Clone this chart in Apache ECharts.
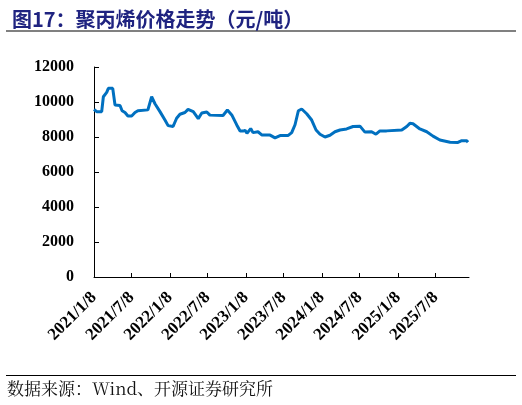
<!DOCTYPE html>
<html>
<head>
    <meta charset="utf-8">
    <title>聚丙烯价格走势</title>
    <script src="https://cdn.jsdelivr.net/npm/echarts@6.0.0/dist/echarts.min.js"></script>
    <style>
        *{
            margin: 0;
            padding: 0;
        }
        html,body{
            width: 100%;
            height: 100%;
            overflow: hidden;
            background: #fff;
        }
        .container{
            width: 522px;
            height: 405px;
        }
    </style>
</head>
<body>
<div class="container"></div>

<script>
    // 聚丙烯价格（元/吨）
    const dates = [
        '2021-01-08', '2021-01-21', '2021-02-14', '2021-02-22', '2021-03-10', '2021-03-18',
        '2021-04-08', '2021-04-19', '2021-05-13', '2021-05-23', '2021-06-06', '2021-06-20',
        '2021-07-08', '2021-07-24', '2021-08-07', '2021-09-24', '2021-10-12', '2021-10-28',
        '2021-11-21', '2021-12-15', '2021-12-30', '2022-01-23', '2022-02-09', '2022-02-25',
        '2022-03-21', '2022-04-05', '2022-04-30', '2022-05-24', '2022-06-10', '2022-07-04',
        '2022-07-19', '2022-09-20', '2022-10-11', '2022-11-01', '2022-11-25', '2022-12-11',
        '2022-12-25', '2023-01-04', '2023-01-13', '2023-01-31', '2023-02-11', '2023-03-07',
        '2023-03-25', '2023-05-04', '2023-05-28', '2023-06-21', '2023-07-29', '2023-08-16',
        '2023-09-01', '2023-09-17', '2023-10-03', '2023-10-27', '2023-11-20', '2023-12-11',
        '2023-12-30', '2024-01-23', '2024-02-16', '2024-03-11', '2024-04-04', '2024-05-06',
        '2024-06-06', '2024-07-09', '2024-08-02', '2024-09-03', '2024-09-24', '2024-10-13',
        '2024-11-14', '2025-01-26', '2025-02-19', '2025-03-06', '2025-03-21', '2025-04-23',
        '2025-05-26', '2025-06-25', '2025-07-28', '2025-09-15', '2025-10-23', '2025-11-10',
        '2025-12-04', '2025-12-10'
    ];
    const prices = [
        9580, 9450, 9450, 10300, 10550, 10780,
        10780, 9830, 9800, 9500, 9400, 9200,
        9200, 9400, 9500, 9550, 10300, 9900,
        9450, 8970, 8650, 8600, 9070, 9300,
        9400, 9580, 9450, 9050, 9370, 9430,
        9250, 9230, 9540, 9260, 8690, 8340,
        8340, 8380, 8210, 8480, 8250, 8300,
        8120, 8110, 7950, 8080, 8080, 8250,
        8700, 9500, 9600, 9330, 8970, 8400,
        8160, 8000, 8100, 8300, 8400, 8460,
        8600, 8620, 8280, 8300, 8160, 8350,
        8350, 8400, 8600, 8780, 8760, 8460,
        8300, 8050, 7830, 7700, 7690, 7790,
        7790, 7700
    ];
    // 横轴刻度（每半年）
    const tickDates = [
        '2021-01-08', '2021-07-08', '2022-01-08', '2022-07-08', '2023-01-08',
        '2023-07-08', '2024-01-08', '2024-07-08', '2025-01-08', '2025-07-08'
    ];
    const axisEnd = '2025-12-15';
    const yTicks = [0, 2000, 4000, 6000, 8000, 10000, 12000];

    function toTime(s) {
        let p = s.split('-').map(Number);
        return new Date(p[0], p[1] - 1, p[2]).getTime();
    }
    const tickValues = tickDates.map(toTime);
    const seriesData = dates.map((d, i) => [toTime(d), prices[i]]);

    const labelFont = {
        fontFamily: '"Liberation Serif", "Times New Roman", serif',
        fontWeight: 'bold',
        color: '#000'
    };

    let chart = echarts.init(document.getElementsByClassName('container')[0]);
    let option = {
        animation: false,
        backgroundColor: '#fff',
        title: {
            text: '图17：聚丙烯价格走势（元/吨）',
            left: 7,
            top: 4,
            textStyle: {
                fontFamily: '"Noto Sans CJK SC", "Liberation Serif", serif',
                fontWeight: 'bold',
                fontSize: 20,
                color: '#1f2380'
            }
        },
        graphic: [
            {
                type: 'line',
                shape: {x1: 6, y1: 31, x2: 516, y2: 31},
                style: {stroke: '#808080', lineWidth: 2}
            },
            {
                type: 'line',
                shape: {x1: 6, y1: 375.5, x2: 516, y2: 375.5},
                style: {stroke: '#000', lineWidth: 1}
            },
            {
                type: 'text',
                left: 7,
                top: 380,
                style: {
                    text: '数据来源：Wind、开源证券研究所',
                    fontFamily: '"Noto Serif CJK SC", "Liberation Serif", "Noto Sans CJK SC", serif',
                    fontSize: 17,
                    fill: '#111'
                }
            }
        ],
        grid: {
            left: 94,
            right: 53,
            top: 67,
            bottom: 128
        },
        xAxis: {
            type: 'value',
            min: tickValues[0],
            max: toTime(axisEnd),
            axisLine: {lineStyle: {color: '#000', width: 1}},
            axisTick: {
                show: true,
                inside: true,
                length: 4,
                customValues: tickValues,
                lineStyle: {color: '#000'}
            },
            axisLabel: {
                customValues: tickValues,
                rotate: 45,
                margin: 18,
                fontSize: 17,
                ...labelFont,
                formatter: function (val) {
                    let d = new Date(val);
                    return d.getFullYear() + '/' + (d.getMonth() + 1) + '/' + d.getDate();
                }
            },
            splitLine: {show: false}
        },
        yAxis: {
            type: 'value',
            min: yTicks[0],
            max: yTicks[yTicks.length - 1],
            interval: 2000,
            axisLine: {show: true, lineStyle: {color: '#000', width: 1}},
            axisTick: {
                show: true,
                inside: true,
                length: 5,
                lineStyle: {color: '#000'}
            },
            axisLabel: {
                margin: 20,
                fontSize: 16,
                ...labelFont,
                formatter: function (v) {
                    return String(v);
                }
            },
            splitLine: {show: false}
        },
        series: [
            {
                name: '聚丙烯',
                type: 'line',
                data: seriesData,
                showSymbol: false,
                lineStyle: {color: '#0070c0', width: 3},
                itemStyle: {color: '#0070c0'}
            }
        ]
    };
    chart.setOption(option);
</script>
</body>
</html>
